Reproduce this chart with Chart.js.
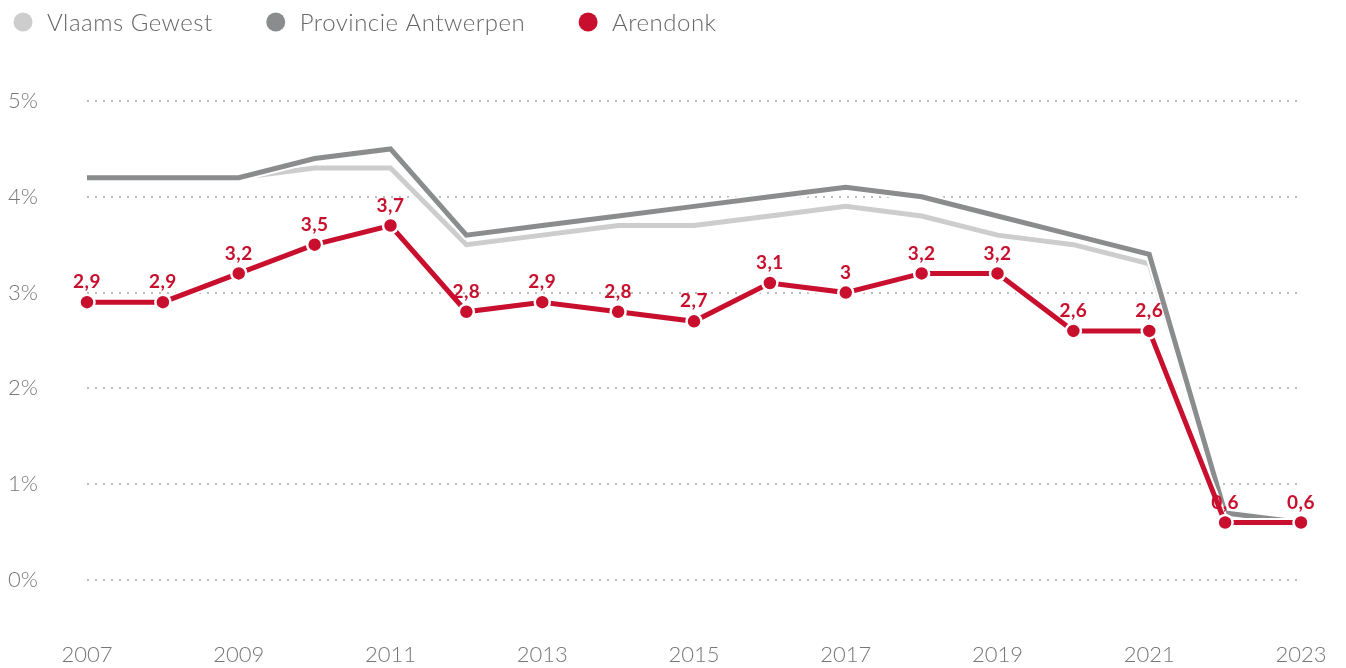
<!DOCTYPE html>
<html>
<head>
<meta charset="utf-8">
<script src="https://cdn.jsdelivr.net/npm/chart.js@4"></script>
<style>
  html, body { margin: 0; padding: 0; background: #fff; overflow: hidden; }
  canvas { display: block; }
</style>
</head>
<body>
<canvas id="chart" width="1346" height="668"></canvas>
<script>
const years = ['2007','2008','2009','2010','2011','2012','2013','2014','2015','2016','2017','2018','2019','2020','2021','2022','2023'];
const vlaamsGewest = [4.2, 4.2, 4.2, 4.3, 4.3, 3.5, 3.6, 3.7, 3.7, 3.8, 3.9, 3.8, 3.6, 3.5, 3.3, 0.7, 0.6];
const provincieAntwerpen = [4.2, 4.2, 4.2, 4.4, 4.5, 3.6, 3.7, 3.8, 3.9, 4.0, 4.1, 4.0, 3.8, 3.6, 3.4, 0.7, 0.6];
const arendonk = [2.9, 2.9, 3.2, 3.5, 3.7, 2.8, 2.9, 2.8, 2.7, 3.1, 3.0, 3.2, 3.2, 2.6, 2.6, 0.6, 0.6];
const yTicks = [0, 1, 2, 3, 4, 5];

const RED = '#c8102e';
const DARK = '#8a8c8e';
const LIGHT = '#cdcdcd';
const LIGHT_FONT = 'Lato';

// white halo under the lines
const haloPlugin = {
  id: 'halo',
  beforeDatasetDraw(chart, args) {
    const pts = args.meta.data;
    const ctx = chart.ctx;
    ctx.save();
    ctx.strokeStyle = '#fff';
    ctx.lineWidth = 9;
    ctx.beginPath();
    pts.forEach((p, i) => i ? ctx.lineTo(p.x, p.y) : ctx.moveTo(p.x, p.y));
    ctx.stroke();
    ctx.restore();
  }
};

// value labels above the Arendonk points
const labelPlugin = {
  id: 'valueLabels',
  afterDatasetsDraw(chart) {
    const idx = chart.data.datasets.findIndex(d => d.label === 'Arendonk');
    const meta = chart.getDatasetMeta(idx);
    const ctx = chart.ctx;
    ctx.save();
    ctx.font = 'bold 19px Lato';
    ctx.letterSpacing = '0.5px';
    ctx.fillStyle = RED;
    ctx.textAlign = 'center';
    ctx.textBaseline = 'middle';
    meta.data.forEach((p, i) => {
      const txt = String(arendonk[i]).replace('.', ',');
      ctx.fillText(txt, p.x, p.y - 20);
    });
    ctx.restore();
  }
};

// legend drawn across the top
const legendPlugin = {
  id: 'topLegend',
  afterDraw(chart) {
    const ctx = chart.ctx;
    ctx.save();
    ctx.font = '300 24px ' + LIGHT_FONT;
    ctx.letterSpacing = '0.5px';
    ctx.textBaseline = 'middle';
    let x = 23;
    const y = 22;
    chart.data.datasets.forEach(ds => {
      ctx.fillStyle = ds.legendColor;
      ctx.beginPath();
      ctx.arc(x, y, 9.5, 0, Math.PI * 2);
      ctx.fill();
      ctx.fillStyle = '#666';
      ctx.fillText(ds.label, x + 24, y + 1);
      x += 24 + ctx.measureText(ds.label).width + 63;
    });
    ctx.restore();
  }
};

new Chart(document.getElementById('chart'), {
  type: 'line',
  data: {
    labels: years,
    datasets: [
      {
        label: 'Vlaams Gewest',
        data: vlaamsGewest,
        legendColor: LIGHT,
        borderColor: LIGHT,
        borderWidth: 5,
        pointRadius: 0,
        order: 2
      },
      {
        label: 'Provincie Antwerpen',
        data: provincieAntwerpen,
        legendColor: DARK,
        borderColor: DARK,
        borderWidth: 5,
        pointRadius: 0,
        order: 1
      },
      {
        label: 'Arendonk',
        data: arendonk,
        legendColor: RED,
        borderColor: RED,
        backgroundColor: RED,
        borderWidth: 5,
        pointRadius: 7.5,
        pointBorderColor: '#fff',
        pointBorderWidth: 2.5,
        order: 0
      }
    ]
  },
  options: {
    responsive: false,
    animation: false,
    layout: { padding: { top: 101, left: 8, right: 45, bottom: 2 } },
    elements: { line: { tension: 0 } },
    plugins: {
      legend: { display: false },
      tooltip: { enabled: false }
    },
    scales: {
      x: {
        grid: { display: false },
        border: { display: false },
        afterFit: s => { s.height = 86; s.paddingLeft = 0; s.paddingRight = 0; },
        ticks: {
          autoSkip: false,
          maxRotation: 0,
          padding: 54,
          color: '#777',
          font: { family: LIGHT_FONT, size: 22, weight: '300' },
          callback: (v, i) => (i % 2 === 0 ? years[i] : '')
        }
      },
      y: {
        min: 0,
        max: 5,
        afterBuildTicks: s => { s.ticks = yTicks.map(v => ({ value: v })); },
        afterFit: s => { s.width = 79; },
        grid: { color: '#bbb', lineWidth: 2, drawTicks: false },
        border: { display: false, dash: [2, 6] },
        ticks: {
          crossAlign: 'far',
          padding: 0,
          color: '#777',
          font: { family: LIGHT_FONT, size: 22, weight: '300' },
          callback: v => v + '%'
        }
      }
    }
  },
  plugins: [haloPlugin, labelPlugin, legendPlugin]
});
</script>
</body>
</html>
